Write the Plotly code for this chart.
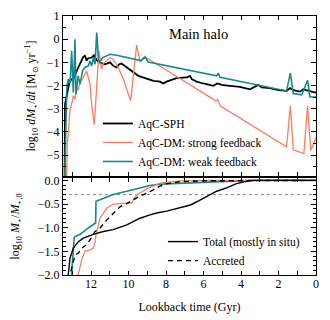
import numpy as np
import plotly.graph_objects as go

# ---------------- data ----------------
# top panel: log10 SFR vs lookback time
sph_t = [13.42, 13.39, 13.30, 13.16, 13.04, 12.90, 12.77, 12.63, 12.50, 12.42, 12.33, 12.24, 12.15,
         11.97, 11.85, 11.70, 11.56, 11.26, 10.99, 10.82, 10.64, 10.50, 10.38, 10.10, 9.83, 9.57,
         9.48, 9.12, 8.68, 8.32, 8.15, 7.97, 7.44, 6.90, 6.72, 6.63, 6.37, 6.01, 5.66, 5.48, 5.27,
         5.03, 4.59, 4.06, 3.52, 3.08, 2.90, 2.45, 2.01, 1.56, 1.39, 1.21, 0.85, 0.68, 0.23, 0.00]
sph_sfr = [-6.5, -2.8, -2.44, -1.87, -1.72, -1.65, -1.37, -1.15, -0.94, -0.76, -0.72, -0.91, -0.82,
           -0.79, -0.69, -0.90, -1.00, -1.08, -1.00, -1.15, -1.22, -1.08, -1.05, -1.22, -1.37, -1.51,
           -1.58, -1.68, -1.80, -1.83, -1.91, -1.83, -1.68, -1.65, -1.58, -1.72, -1.83, -1.91, -1.97,
           -2.01, -1.91, -1.97, -2.01, -2.06, -2.16, -1.97, -2.08, -2.11, -2.20, -2.23, -2.11, -2.20,
           -2.26, -2.16, -2.26, -2.30]

strong_t = [13.32, 13.30, 13.27, 13.22, 13.16, 13.13, 13.04, 12.95, 12.86, 12.77, 12.69, 12.59, 12.45,
            12.33, 12.24, 12.15, 12.06, 11.97, 11.83, 11.58, 11.44, 11.35, 11.17, 10.99, 10.82, 10.55,
            10.28, 9.89, 9.57, 9.39, 9.07, 5.34, 5.25, 5.12, 1.57, 1.37, 1.21, 0.65, 0.45, 0.28, 0.00]
strong_sfr = [-6.5, -5.25, -4.5, -4.1, -3.52, -3.09, -2.8, -2.44, -2.6, -2.08, -2.2, -1.8, -1.7,
              -1.51, -1.37, -1.65, -1.94, -2.8, -3.69, -0.5, -1.29, -1.05, -0.9, -0.79, -0.88, -1.22,
              -1.72, -2.66, -0.25, -0.97, -0.79, -2.66, -2.6, -2.87, -4.64, -2.87, -4.77, -4.93, -2.87,
              -4.8, -4.25]

weak_t = [13.42, 13.34, 13.30, 13.22, 13.12, 13.04, 12.95, 12.86, 12.81, 12.69, 12.59, 12.45, 12.30,
          12.15, 12.06, 11.97, 11.88, 11.79, 11.70, 11.61, 11.53, 11.38, 11.17, 10.99, 10.64, 10.10,
          9.66, 9.35, 9.13, 8.95, 5.30, 5.22, 5.12, 1.57, 1.37, 1.21, 0.76, 0.45, 0.32, 0.00]
weak_sfr = [-6.5, -3.66, -2.08, -1.72, -1.9, -0.5, -2.3, 0.0, -2.37, -1.58, -1.94, -1.34, -1.2,
            -1.15, -0.94, -1.15, -0.79, -1.08, 0.29, -0.86, -1.0, -0.79, -0.72, -0.65, -0.69, -0.79,
            -0.86, -0.92, -0.76, -0.98, -1.58, -1.46, -1.64, -2.23, -1.46, -2.34, -2.4, -1.77, -2.49,
            -2.49]

# bottom panel: log10 M*/M*,0
total_t = [13.30, 13.21, 13.13, 12.95, 12.69, 12.42, 11.88, 11.35, 10.82, 10.10, 9.75, 9.39, 8.86,
           8.50, 7.97, 7.60, 6.90, 6.70, 6.24, 5.84, 5.30, 4.77, 4.24, 3.70, 3.35, 0.00]
total_m = [-2.3, -2.0, -1.65, -1.43, -1.30, -1.22, -1.14, -1.08, -1.04, -0.94, -0.87, -0.80, -0.73,
           -0.69, -0.65, -0.61, -0.55, -0.52, -0.43, -0.35, -0.23, -0.16, -0.07, -0.02, 0.0, 0.0]

accr_t = [13.20, 13.13, 12.86, 12.69, 12.45, 12.24, 12.06, 11.79, 11.53, 11.17, 10.82, 10.46, 10.10,
          9.66, 9.39, 8.86, 8.32, 7.97, 7.26, 6.19, 3.00, 0.00]
accr_m = [-2.3, -2.0, -1.58, -1.54, -1.42, -1.36, -1.26, -1.08, -1.01, -0.84, -0.70, -0.56, -0.49,
          -0.38, -0.33, -0.24, -0.12, -0.07, -0.03, -0.01, 0.0, 0.0]

strong_m_t = [12.75, 12.69, 12.50, 12.33, 12.06, 11.88, 11.78, 11.74, 11.61, 11.53, 11.17, 10.82,
              10.01, 9.83, 9.71, 9.53, 9.04, 8.32, 7.26, 6.00, 0.00]
strong_m = [-2.3, -2.0, -1.68, -1.50, -1.47, -1.43, -1.30, -1.15, -0.94, -0.80, -0.59, -0.50,
            -0.48, -0.48, -0.38, -0.30, -0.18, -0.06, -0.01, 0.0, 0.0]

weak_m_t = [13.10, 13.04, 12.99, 12.95, 12.90, 12.86, 12.59, 12.06, 11.88, 11.76, 11.74, 11.35,
            10.82, 10.10, 9.39, 8.86, 8.30, 6.19, 4.50, 3.50, 0.00]
weak_m = [-2.3, -1.96, -1.75, -1.60, -1.20, -1.19, -1.14, -0.98, -0.93, -0.90, -0.44, -0.38,
          -0.30, -0.23, -0.16, -0.11, -0.08, -0.04, -0.02, 0.0, 0.0]

half_mass_level = np.log10(0.5)

BLACK = "#000000"
RED = "#FA7E62"
TEAL = "#168A8A"
FONT = "Liberation Serif"

fig = go.Figure()

# top panel
fig.add_trace(go.Scatter(x=sph_t, y=sph_sfr, mode="lines", name="AqC-SPH",
                         line=dict(color=BLACK, width=1.8), xaxis="x", yaxis="y", legend="legend"))
fig.add_trace(go.Scatter(x=strong_t, y=strong_sfr, mode="lines", name="AqC-DM: strong feedback",
                         line=dict(color=RED, width=1.3), xaxis="x", yaxis="y", legend="legend"))
fig.add_trace(go.Scatter(x=weak_t, y=weak_sfr, mode="lines", name="AqC-DM: weak feedback",
                         line=dict(color=TEAL, width=1.6), xaxis="x", yaxis="y", legend="legend"))

# bottom panel
fig.add_trace(go.Scatter(x=weak_m_t, y=weak_m, mode="lines", showlegend=False,
                         line=dict(color=TEAL, width=1.6), xaxis="x2", yaxis="y2"))
fig.add_trace(go.Scatter(x=strong_m_t, y=strong_m, mode="lines", showlegend=False,
                         line=dict(color=RED, width=1.3), xaxis="x2", yaxis="y2"))
fig.add_trace(go.Scatter(x=total_t, y=total_m, mode="lines", name="Total (mostly in situ)",
                         line=dict(color=BLACK, width=1.4), xaxis="x2", yaxis="y2", legend="legend2"))
fig.add_trace(go.Scatter(x=accr_t, y=accr_m, mode="lines", name="Accreted",
                         line=dict(color=BLACK, width=1.4, dash="5px,4px"), xaxis="x2", yaxis="y2",
                         legend="legend2"))

axis_common = dict(showline=True, linecolor="black", linewidth=1.2, mirror="allticks",
                   ticks="inside", tickcolor="black", showgrid=False, zeroline=False,
                   automargin=False,
                   tickfont=dict(family=FONT, size=12, color="black"))

x_minor = dict(dtick=1, tick0=0, ticklen=4, ticks="inside", tickcolor="black", showgrid=False)

# the page body adds an 8px offset, so the figure is 8px smaller and margins compensate
fig.update_layout(
    width=322, height=312,
    margin=dict(l=55, r=14, t=8, b=45),
    paper_bgcolor="white", plot_bgcolor="white",
    font=dict(family=FONT, size=12, color="black"),
    xaxis=dict(domain=[0, 1], anchor="y", range=[13.5, 0], dtick=2, tick0=0,
               showticklabels=False, ticklen=4, minor=x_minor, **axis_common),
    yaxis=dict(domain=[0.382, 1], anchor="x", range=[-5.9, 1.0], dtick=1, tick0=0, ticklen=5,
               minor=dict(dtick=0.5, tick0=0, ticklen=3, ticks="inside", tickcolor="black"),
               title=dict(text="log<sub>10</sub> <i>dM</i><sub>⋆</sub>/<i>dt</i> [M<sub>⊙</sub> yr<sup>−1</sup>]",
                          font=dict(family=FONT, size=12), standoff=8),
               **axis_common),
    xaxis2=dict(domain=[0, 1], anchor="y2", range=[13.5, 0], dtick=2, tick0=0, ticklen=4,
                minor=x_minor, ticklabelstandoff=-3,
                title=dict(text="Lookback time (Gyr)", font=dict(family=FONT, size=12), standoff=13),
                **axis_common),
    yaxis2=dict(domain=[0, 0.3745], anchor="x2", range=[-2.0, 0.05], dtick=0.5, tick0=0,
                tickformat=".1f", ticklen=5,
                minor=dict(dtick=0.1, tick0=0, ticklen=2.5, ticks="inside", tickcolor="black"),
                title=dict(text="log<sub>10</sub> <i>M</i><sub>⋆</sub>/<i>M</i><sub>⋆,0</sub>",
                           font=dict(family=FONT, size=12), standoff=16),
                **axis_common),
    legend=dict(x=0.138, y=0.641, xanchor="left", yanchor="top", bgcolor="rgba(0,0,0,0)",
                font=dict(family=FONT, size=11.5), tracegroupgap=0, borderwidth=0),
    legend2=dict(x=0.395, y=0.185, xanchor="left", yanchor="top", bgcolor="rgba(0,0,0,0)",
                 font=dict(family=FONT, size=11.5), tracegroupgap=0, borderwidth=0),
    showlegend=True,
)

fig.add_shape(type="line", xref="x2 domain", yref="y2", x0=0, x1=1,
              y0=half_mass_level, y1=half_mass_level,
              line=dict(color="#888888", width=1, dash="dot"), layer="below")

fig.add_annotation(text="Main halo", xref="paper", yref="paper", x=0.534, y=0.93,
                   xanchor="center", yanchor="middle",
                   showarrow=False, font=dict(family=FONT, size=14.5, color="black"))

fig.write_html("out.html")
